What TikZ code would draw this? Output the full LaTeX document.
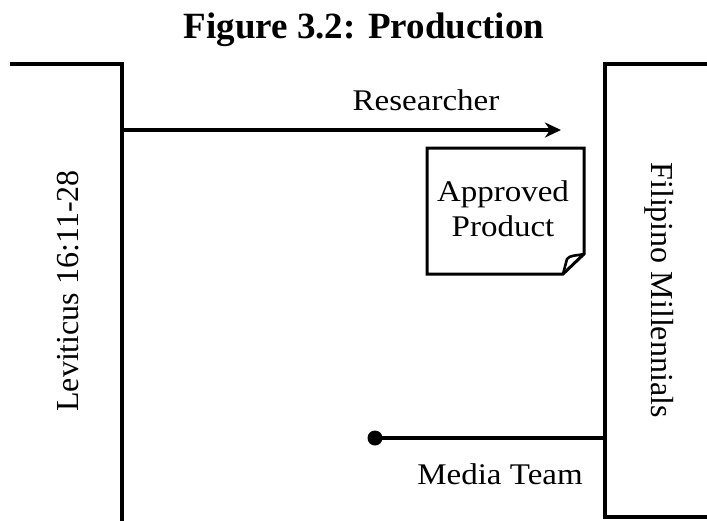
\documentclass[tikz,border=0pt]{standalone}
\usepackage{fontspec}
\setmainfont{Liberation Serif}
\newfontfamily\bodyfont[FakeStretch=1.1]{Liberation Serif}
\usetikzlibrary{arrows.meta}
\tikzset{
  edge/.style={line width=3.2pt},
  lbl/.style={font=\bodyfont\fontsize{30}{35}\selectfont, inner sep=0pt},
  vlbl/.style={font=\fontsize{32}{36}\selectfont, inner sep=0pt, anchor=base},
}
\begin{document}
\begin{tikzpicture}[x=1pt,y=-1pt]
\useasboundingbox (0,0) rectangle (707,520);
% title
\node[font=\bfseries\fontsize{37}{40}\selectfont, anchor=base, inner sep=0pt] (title) at (364,38) {Figure 3.2: Production};
% left box (Leviticus)
\coordinate (ltl) at (10,64);
\coordinate (ltr) at (122,64);
\coordinate (lbr) at (122,522);
\draw[edge, line join=miter] (ltl) -- (ltr) -- (lbr);
\node[vlbl, rotate=90] (lev) at (78,291) {Leviticus 16:11-28};
% right box (Filipino Millennials)
\coordinate (rtr) at (709,64);
\coordinate (rtl) at (605,64);
\coordinate (rbl) at (605,517);
\coordinate (rbr) at (709,517);
\draw[edge, line join=miter] (rtr) -- (rtl) -- (rbl) -- (rbr);
\node[vlbl, rotate=-90] (fil) at (651,290) {Filipino Millennials};
% researcher arrow
\coordinate (rs) at (122,130);
\coordinate (re) at (561,130);
\draw[edge, -{Stealth[length=16pt,width=15pt,inset=5pt]}] (rs) -- (re);
\node[lbl, anchor=base] (res) at (426,110) {Researcher};
% approved product document
\draw[line width=3pt, line join=miter] (427,148) -- (584,148) -- (584,254) -- (563,274) -- (427,274) -- cycle;
\draw[line width=2.6pt, line join=round] (584,254) .. controls (575,256) and (570,255) .. (567,259) -- (563,274);
\node[lbl, align=center] (prod) at (503,209) {Approved\\Product};
% media team
\coordinate (me) at (605,438);
\node[circle, fill=black, inner sep=0pt, minimum size=15pt] (dot) at (375,438) {};
\draw[edge] (dot.center) -- (me);
\node[lbl, anchor=base] (med) at (500,484) {Media Team};
\end{tikzpicture}
\end{document}
